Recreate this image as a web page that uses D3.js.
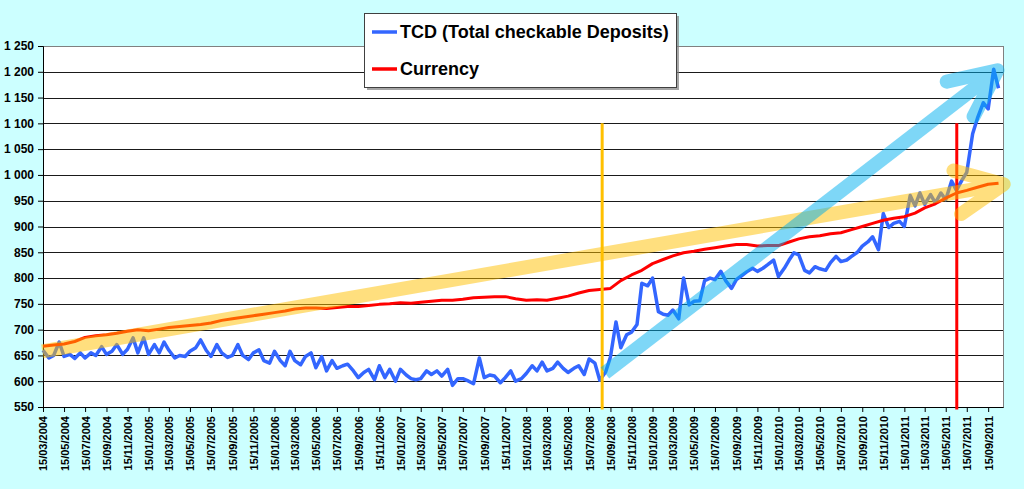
<!DOCTYPE html>
<html>
<head>
<meta charset="utf-8">
<script src="https://cdn.jsdelivr.net/npm/d3@7"></script>
<style>
    html, body { margin: 0; padding: 0; background: #ccffff; }
    svg { display: block; font-family: "Liberation Sans", Arial, sans-serif; }
</style>
</head>
<body>
<svg id="chart" width="1024" height="489"></svg>
<script>
const tcd = [
    660, 645, 650, 676, 648, 652, 644, 655, 645, 655,
    650, 667, 652, 658, 671, 652, 662, 684, 655, 684,
    652, 671, 655, 676, 660, 645, 650, 648, 658, 665,
    680, 660, 648, 671, 655, 646, 650, 671, 650, 642,
    655, 661, 640, 635, 658, 640, 630, 658, 640, 632,
    648, 655, 626, 648,
    620, 640, 625, 630, 633, 620, 607, 617, 623, 603,
    630, 607, 623, 600, 623, 612, 605, 603, 605, 620,
    613, 620, 610, 623, 592, 605, 605, 600, 595, 645,
    607, 612, 610, 597, 607, 620, 600, 605, 615, 630,
    620, 637, 620, 625, 637, 625, 617, 625, 630, 613,
    643, 635, 602, 618,
    647, 715, 665, 690, 695, 710, 790, 785, 800, 735,
    730, 728, 738, 721, 800, 748, 755, 756, 795, 800,
    797, 813, 795, 780, 797, 805, 812, 819, 813, 819,
    826, 835, 803, 819, 835, 849, 845, 815, 810, 822,
    818, 815, 830, 842, 832, 835, 842, 850, 862, 870,
    880, 855, 925, 898, 906, 910, 900, 960, 940, 965,
    943, 962, 946, 965, 952, 988, 970, 990, 1005, 1080,
    1110, 1140, 1128, 1205, 1168
];

// Currency, one reading per month (15th), 15/03/2004 .. 15/10/2011
const currency = [
    668, 670, 672, 677, 685, 688, 690, 693, 697, 700,
    698, 701, 704, 706, 708, 710, 713, 718, 721, 724,
    727, 730, 733, 736, 740, 742, 742, 741, 743, 745,
    745, 747, 749, 750, 752, 751, 753, 755, 757, 757,
    759, 762, 763, 764, 764, 760, 757, 758, 757, 761,
    765, 771, 776, 778, 780, 795, 806, 815, 828, 836,
    843, 849, 852, 856, 859, 862, 865, 865, 862, 863,
    863, 870, 876, 880, 882, 886, 888, 894, 900, 906,
    912, 916, 919, 926, 936, 944, 955, 965, 970, 976,
    982, 984
];

const yTicks = [550, 600, 650, 700, 750, 800, 850, 900, 950, 1000, 1050, 1100, 1150, 1200, 1250];

const seriesNames = ["TCD (Total checkable Deposits)", "Currency"];
const seriesColors = ["#3366ff", "#ff0000"];

// annotations drawn over the chart: [date, value]
const trendArrows = [
    { from: [new Date(2004, 2, 13), 658], to: [new Date(2011, 9, 30), 982], color: "#ffc000" },
    { from: [new Date(2008, 7, 30), 616], to: [new Date(2011, 9, 12), 1203], color: "#00b0f0" }
];
const eventLines = [
    { date: new Date(2008, 7, 22), top: 1100, bottom: 545, color: "#ffc000" },
    { date: new Date(2011, 5, 16), top: 1100, bottom: 545, color: "#ff0000" }
];

// dates for the rows above
const tcdDates = tcd.map((v, i) => i % 2 === 0
    ? new Date(2004, 2 + i / 2, 15)
    : new Date(2004, 2 + (i + 1) / 2, 1));
const currencyDates = currency.map((v, i) => new Date(2004, 2 + i, 15));
// a label every second month, 15/03/2004 .. 15/09/2011
const xTicks = d3.range(46).map(i => new Date(2004, 2 + 2 * i, 15));

const plot = { left: 43, right: 1003, top: 46, bottom: 407 };

const svg = d3.select("#chart");

const x = d3.scaleTime()
    .domain([new Date(2004, 2, 15), new Date(2011, 9, 28)])
    .range([plot.left, plot.right]);
const y = d3.scaleLinear()
    .domain([550, 1250])
    .range([plot.bottom, plot.top]);

const locale = d3.formatLocale({ decimal: ",", thousands: " ", grouping: [3], currency: ["", ""] });
const fmtY = locale.format(",");
const fmtDate = d3.timeFormat("%d/%m/%Y");

// plot area
svg.append("rect")
    .attr("x", plot.left).attr("y", plot.top)
    .attr("width", plot.right - plot.left).attr("height", plot.bottom - plot.top)
    .attr("fill", "#fff").attr("stroke", "#808080").attr("stroke-width", 1)
    .attr("shape-rendering", "crispEdges");

// gridlines
svg.append("g")
    .selectAll("line")
    .data(yTicks.filter(d => d > 550 && d < 1250))
    .enter().append("line")
    .attr("x1", plot.left).attr("x2", plot.right)
    .attr("y1", d => Math.round(y(d)) + 0.5).attr("y2", d => Math.round(y(d)) + 0.5)
    .attr("stroke", "#1a1a1a").attr("stroke-width", 1);

// y axis
const yAxis = svg.append("g")
    .attr("transform", `translate(${plot.left},0)`)
    .call(d3.axisLeft(y).tickValues(yTicks).tickFormat(fmtY).tickSize(5).tickPadding(4));
yAxis.select(".domain").attr("stroke", "#000");
yAxis.selectAll(".tick line").attr("stroke", "#000");
yAxis.selectAll("text")
    .attr("fill", "#000")
    .style("font-size", "12px")
    .style("font-weight", "bold");

// x axis
const xAxis = svg.append("g")
    .attr("transform", `translate(0,${plot.bottom})`)
    .call(d3.axisBottom(x).tickValues(xTicks).tickFormat(fmtDate).tickSize(5).tickSizeOuter(0));
xAxis.select(".domain").attr("stroke", "#000");
xAxis.selectAll(".tick line").attr("stroke", "#000");
xAxis.selectAll("text")
    .attr("fill", "#000")
    .attr("transform", "rotate(-90)")
    .attr("text-anchor", "end")
    .attr("x", -9)
    .attr("y", 0)
    .attr("dy", "0.36em")
    .style("font-size", "11px")
    .style("font-weight", "bold");

// series
const line = d3.line()
    .x(d => x(d[0]))
    .y(d => y(d[1]))
    .curve(d3.curveLinear);

svg.append("path")
    .datum(tcdDates.map((d, i) => [d, tcd[i]]))
    .attr("d", line)
    .attr("fill", "none")
    .attr("stroke", seriesColors[0])
    .attr("stroke-width", 3.5)
    .attr("stroke-linejoin", "round");

svg.append("path")
    .datum(currencyDates.map((d, i) => [d, currency[i]]))
    .attr("d", line)
    .attr("fill", "none")
    .attr("stroke", seriesColors[1])
    .attr("stroke-width", 3)
    .attr("stroke-linejoin", "round");

// event markers
svg.append("g")
    .selectAll("line")
    .data(eventLines)
    .enter().append("line")
    .attr("x1", d => x(d.date)).attr("x2", d => x(d.date))
    .attr("y1", d => y(d.top)).attr("y2", d => y(d.bottom))
    .attr("stroke", d => d.color)
    .attr("stroke-width", 3);

// trend arrows, semi-transparent, on top of the lines
trendArrows.forEach(a => {
    const x0 = x(a.from[0]), y0 = y(a.from[1]);
    const x1 = x(a.to[0]), y1 = y(a.to[1]);
    const back = Math.atan2(y0 - y1, x0 - x1);
    const len = 52, spread = 25 * Math.PI / 180;
    const arm = s => [x1 + len * Math.cos(back + s), y1 + len * Math.sin(back + s)];
    const g = svg.append("g").attr("opacity", 0.5);
    g.append("line")
        .attr("x1", x0).attr("y1", y0).attr("x2", x1).attr("y2", y1)
        .attr("stroke", a.color).attr("stroke-width", 14);
    const p1 = arm(spread), p2 = arm(-spread);
    g.append("path")
        .attr("d", `M${p1[0]},${p1[1]}L${x1},${y1}L${p2[0]},${p2[1]}`)
        .attr("fill", "none")
        .attr("stroke", a.color).attr("stroke-width", 14)
        .attr("stroke-linecap", "round").attr("stroke-linejoin", "round");
});

// legend
const legend = svg.append("g").attr("transform", "translate(364,13)");
legend.append("rect")
    .attr("x", 3).attr("y", 3).attr("width", 312).attr("height", 74)
    .attr("fill", "#7f7f7f").attr("opacity", 0.7);
legend.append("rect")
    .attr("x", 0.5).attr("y", 0.5).attr("width", 312).attr("height", 74)
    .attr("fill", "#fff").attr("stroke", "#404040").attr("stroke-width", 1);
const item = legend.selectAll(".item")
    .data(seriesNames)
    .enter().append("g")
    .attr("class", "item")
    .attr("transform", (d, i) => `translate(0,${19 + i * 37})`);
item.append("line")
    .attr("x1", 8).attr("x2", 33)
    .attr("stroke", (d, i) => seriesColors[i])
    .attr("stroke-width", 3.5);
item.append("text")
    .attr("x", 36).attr("dy", "0.36em")
    .text(d => d)
    .style("font-size", "18px")
    .style("font-weight", "bold")
    .attr("fill", "#000");
</script>
</body>
</html>
